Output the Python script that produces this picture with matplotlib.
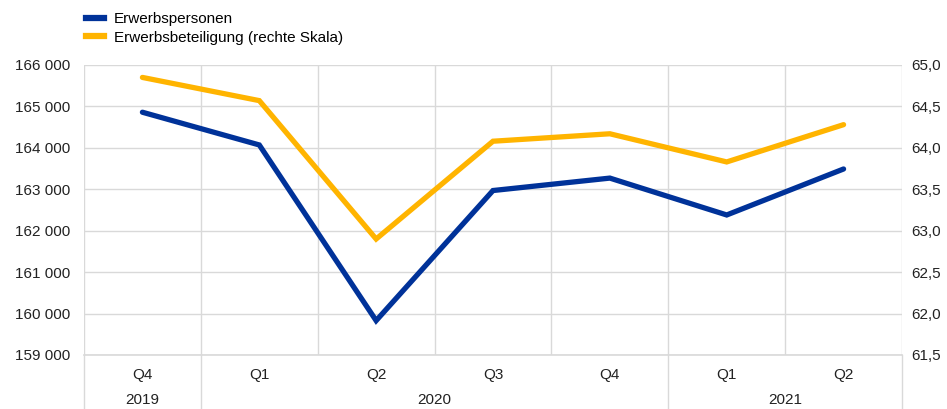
"""Erwerbspersonen und Erwerbsbeteiligung im Euroraum"""

import numpy as np
import matplotlib.pyplot as plt
from matplotlib.lines import Line2D
from matplotlib.ticker import FuncFormatter
import matplotlib.transforms as mtransforms

plt.rcParams['font.family'] = ['Liberation Sans', 'DejaVu Sans']

# Daten
quartale = ['Q4', 'Q1', 'Q2', 'Q3', 'Q4', 'Q1', 'Q2']
jahre = ['2019', '2020', '2021']
jahr_bereiche = [(0, 0), (1, 4), (5, 6)]  # erste/letzte Quartalsposition je Jahr
erwerbspersonen = [164860, 164070, 159830, 162970, 163270, 162380, 163490]
erwerbsbeteiligung = [64.85, 64.57, 62.90, 64.08, 64.17, 63.83, 64.28]

blau = '#003299'
gelb = '#ffb400'
grau = '#d9d9d9'
schrift = 11

x = np.arange(len(quartale))

fig = plt.figure(figsize=(9.47, 4.09), dpi=100)
ax = fig.add_axes([84 / 947, 54 / 409, 818 / 947, 290 / 409])
ax2 = ax.twinx()

ax.plot(x, erwerbspersonen, color=blau, lw=3.8, solid_capstyle='round',
        solid_joinstyle='miter', zorder=3)
ax2.plot(x, erwerbsbeteiligung, color=gelb, lw=3.8, solid_capstyle='round',
         solid_joinstyle='miter', zorder=3)

ax.set_xlim(-0.5, len(quartale) - 0.5)
ax.set_ylim(159000, 166000)
ax.set_yticks(np.arange(159000, 166001, 1000))
ax2.set_ylim(61.5, 65.0)
ax2.set_yticks(np.arange(61.5, 65.01, 0.5))

ax.yaxis.set_major_formatter(FuncFormatter(lambda v, p: f"{int(v):,}".replace(',', ' ')))
ax2.yaxis.set_major_formatter(FuncFormatter(lambda v, p: f"{v:.1f}".replace('.', ',')))

# Gitter
ax.set_xticks(x)
ax.set_xticklabels(quartale)
ax.set_xticks(np.arange(-0.5, len(quartale)), minor=True)
ax.grid(axis='y', color=grau, lw=1, zorder=0)
ax.grid(axis='x', which='minor', color=grau, lw=1, zorder=0)
ax.grid(axis='x', which='major', visible=False)
ax.axhline(159000, color=grau, lw=1.2, clip_on=False, zorder=1)

for a in (ax, ax2):
    for s in a.spines.values():
        s.set_visible(False)
    a.tick_params(length=0, labelsize=schrift, colors='#222222')
    a.tick_params(axis='x', which='minor', length=0)

ax.tick_params(axis='y', pad=10)
ax2.tick_params(axis='y', pad=7)
ax.tick_params(axis='x', pad=9)

# Jahresbeschriftung und Trennlinien unter der Achse
trans = mtransforms.blended_transform_factory(ax.transData, ax.transAxes)
for jahr, (a, b) in zip(jahre, jahr_bereiche):
    ax.text((a + b) / 2, -0.155, jahr, transform=trans, ha='center', va='center',
            fontsize=schrift, color='#222222')
grenzen = [-0.5] + [b + 0.5 for _, b in jahr_bereiche]
for g in grenzen:
    ax.plot([g, g], [0, -0.19], transform=trans, color=grau, lw=1, clip_on=False)

# Legende
handles = [Line2D([], [], color=blau, lw=4.5),
           Line2D([], [], color=gelb, lw=4.5)]
fig.legend(handles, ['Erwerbspersonen', 'Erwerbsbeteiligung (rechte Skala)'],
           loc='upper left', bbox_to_anchor=(80 / 947, 1 - 6 / 409), frameon=False,
           fontsize=schrift, handlelength=1.15, handletextpad=0.65, labelspacing=0.3,
           borderaxespad=0)

fig.savefig('out.png', dpi=100)
